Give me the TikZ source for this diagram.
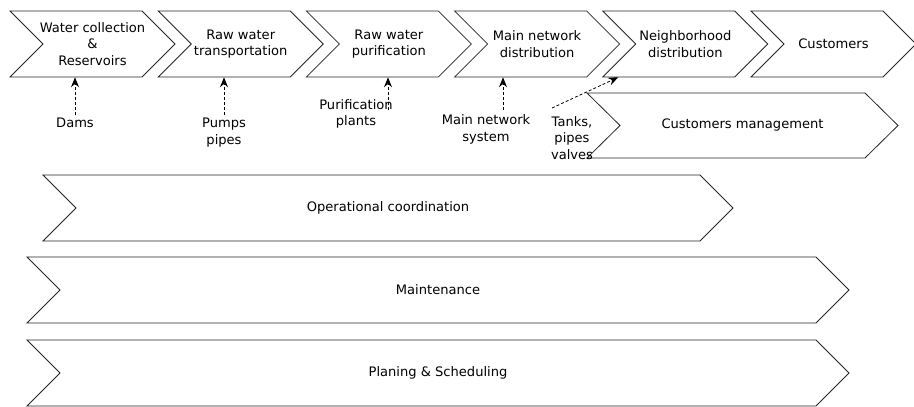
\documentclass[tikz,border=0pt]{standalone}
\usepackage{fontspec}
\setmainfont{DejaVu Sans}
\usetikzlibrary{arrows.meta,calc}

% chevron: left x, top y, point x, bottom y
\newcommand{\chevron}[4]{%
  \draw[stage] (#1,#2) -- (#3-33,#2) -- (#3,{(#2+#4)/2}) -- (#3-33,#4)
    -- (#1,#4) -- (#1+33,{(#2+#4)/2}) -- cycle;}

\tikzset{
  stage/.style={draw=black!85,fill=white,line width=0.6pt},
  stagetext/.style={align=center,font=\fontsize{9.8}{12.6}\selectfont,
    minimum height=49.5pt,inner sep=0pt},
  resource/.style={align=center,font=\fontsize{9.8}{12.4}\selectfont,inner sep=2pt},
  feed/.style={dash pattern=on 2.2pt off 1.6pt,line width=0.6pt,
    -{Stealth[length=7.5pt,width=6pt,inset=2.5pt]}}
}

\begin{document}
\begin{tikzpicture}[x=0.75pt,y=-0.75pt]
  \useasboundingbox (0,0) rectangle (914,407);
  % value chain
  \foreach \i/\name/\txt in {0/wc/{Water collection\\\&\\Reservoirs},
      1/rwt/{Raw water\\transportation},2/rwp/{Raw water\\purification},
      3/mnd/{Main network\\distribution},4/nd/{Neighborhood\\distribution},
      5/cu/{Customers}}{
    \chevron{10+148.2*\i}{11}{175+148.2*\i}{77}
    \node[stagetext] (\name) at (92.5+148.2*\i,44) {\txt};
  }
  % support activities
  \chevron{587}{93}{898}{158}
  \node[stagetext] (cm) at (742.5,125.5) {Customers management};
  \chevron{43}{175}{733}{241}
  \node[stagetext] (oc) at (388,208) {Operational coordination};
  \chevron{27}{257}{849}{323}
  \node[stagetext] (mt) at (438,290) {Maintenance};
  \chevron{27}{340}{849}{406}
  \node[stagetext] (ps) at (438,373) {Planing \& Scheduling};
  % assets
  \node[resource] (dams) at (75,123) {Dams};
  \node[resource] (pumps) at (224,132.5) {Pumps\\pipes};
  \node[resource] (plants) at (356,114) {Purification\\plants};
  \node[resource] (mns) at (486,129.5) {Main network\\system};
  \node[resource] (tanks) at (572,138) {Tanks,\\pipes\\valves};
  \coordinate (plantsfeed) at (388,110);
  \coordinate (netfeed) at (503,110);
  \coordinate (tanksfeed) at (552,108);
  \draw[feed] (dams) -- (dams |- wc.south);
  \draw[feed] (pumps) -- (pumps |- rwt.south);
  \draw[feed] (plantsfeed) -- (plantsfeed |- rwp.south);
  \draw[feed] (netfeed) -- (netfeed |- mnd.south);
  \draw[feed] (tanksfeed) -- ($(nd.south)+(-67,0)$);
\end{tikzpicture}
\end{document}
